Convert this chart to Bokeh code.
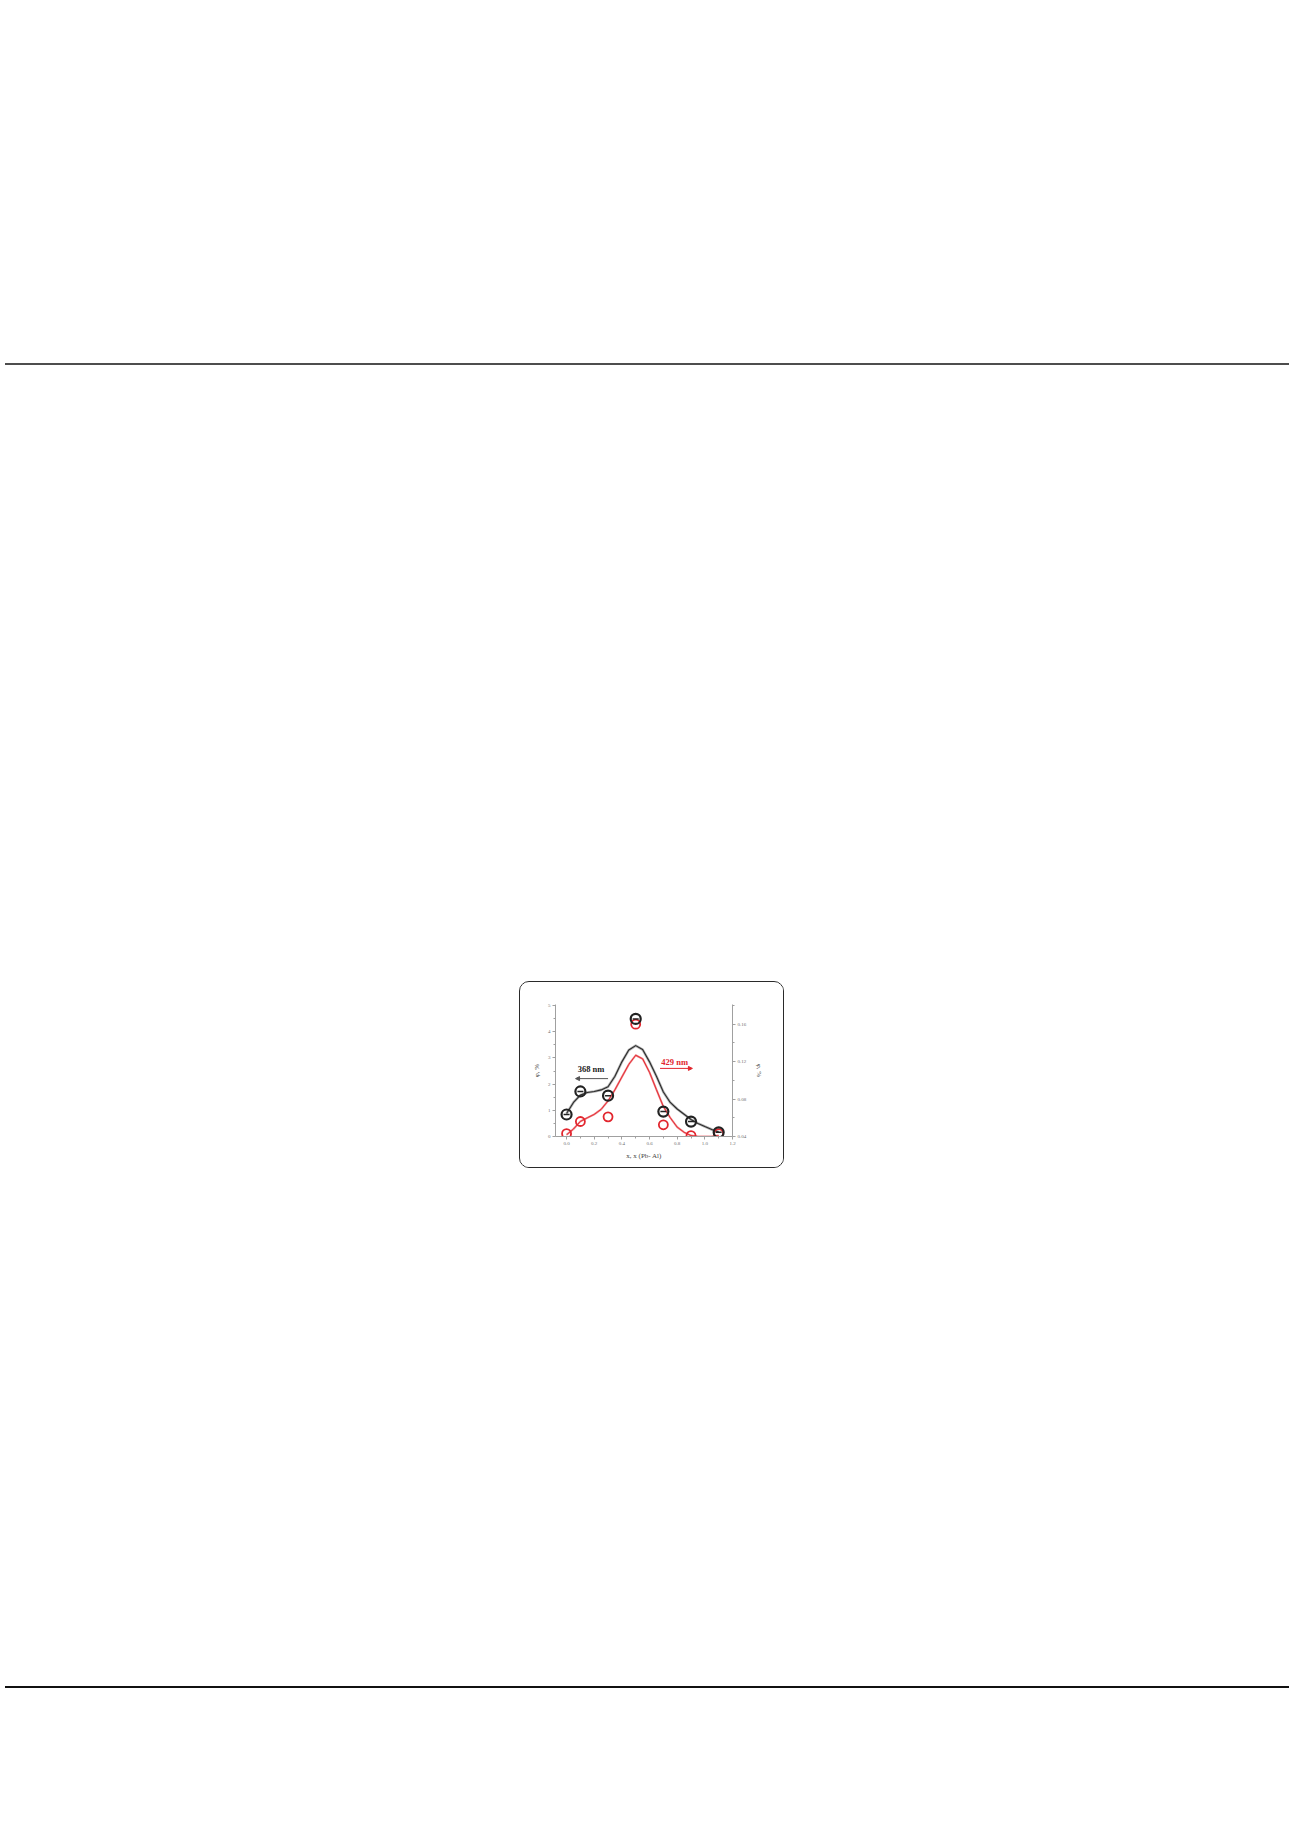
from bokeh.plotting import figure
from bokeh.layouts import column, row
from bokeh.models import (Range1d, LinearAxis, FixedTicker, Spacer, Div, Arrow,
                          NormalHead, InlineStyleSheet, NumeralTickFormatter)
from bokeh.core.properties import value
from bokeh.embed import file_html
from bokeh.resources import INLINE

# ---------------- data ----------------
x_pts = [0.0, 0.1, 0.3, 0.5, 0.7, 0.9, 1.1]
black_pts = [0.84, 1.72, 1.56, 4.49, 0.95, 0.57, 0.16]          # left axis
red_pts = [0.043, 0.056, 0.061, 0.160, 0.0525, 0.041, 0.043]      # right axis

x_fit = [0.0, 0.05, 0.1, 0.15, 0.2, 0.25, 0.3, 0.35, 0.4, 0.45, 0.5, 0.55,
         0.6, 0.65, 0.7, 0.75, 0.8, 0.85, 0.9, 0.95, 1.0, 1.05, 1.1]
black_fit = [0.88, 1.3, 1.58, 1.68, 1.72, 1.78, 1.9, 2.3, 2.85, 3.3, 3.47, 3.32,
             2.85, 2.3, 1.7, 1.3, 1.05, 0.85, 0.65, 0.5, 0.38, 0.27, 0.17]
red_fit = [0.0418, 0.048, 0.0561, 0.060, 0.0636, 0.069, 0.078, 0.090, 0.1035, 0.117,
           0.1268, 0.123, 0.1085, 0.090, 0.072, 0.060, 0.050, 0.0445, 0.041, 0.040,
           0.040, 0.040, 0.041]

x_ticks = [0.0, 0.2, 0.4, 0.6, 0.8, 1.0, 1.2]
left_ticks = [0, 1, 2, 3, 4, 5]
right_ticks = [0.04, 0.08, 0.12, 0.16]

x_label = "x, x (Pb- Al)"
left_label = "φ, %"
right_label = "φ, %"
label_368 = "368 nm"
label_429 = "429 nm"

SERIF = "Liberation Serif"
AX = "#a0a0a0"
TL = "#707070"

# ---------------- chart ----------------
p = figure(width=265, height=187, output_backend="svg", toolbar_location=None,
           x_range=Range1d(-0.08, 1.2), y_range=Range1d(0, 5.04),
           min_border_left=35, min_border_right=53, min_border_top=22,
           min_border_bottom=33, x_axis_location=None, y_axis_location=None)
p.extra_y_ranges = {"r": Range1d(0.04, 0.181)}
p.grid.visible = False
p.outline_line_color = None
p.background_fill_color = "white"
p.border_fill_color = "white"
p.stylesheets = [InlineStyleSheet(
    css=":host { border: 1.5px solid #2a2a2a; border-radius: 10px; overflow: hidden; }")]


def style_axis(ax):
    ax.axis_line_color = AX
    ax.axis_line_width = 1
    ax.major_tick_line_color = AX
    ax.minor_tick_line_color = AX
    ax.major_tick_out = 3
    ax.major_tick_in = 0
    ax.minor_tick_out = 2
    ax.minor_tick_in = 0
    ax.major_label_text_font = SERIF
    ax.major_label_text_font_size = "5px"
    ax.major_label_text_color = TL
    ax.major_label_standoff = 2
    ax.axis_label_text_font = SERIF
    ax.axis_label_text_font_size = "7px"
    ax.axis_label_text_font_style = "normal"
    ax.axis_label_text_color = "#444"
    ax.axis_label_standoff = 4


xa = LinearAxis(ticker=FixedTicker(ticks=x_ticks, minor_ticks=[t + 0.1 for t in x_ticks[:-1]]),
                formatter=NumeralTickFormatter(format="0.0"), axis_label=x_label)
style_axis(xa)
p.add_layout(xa, "below")

la = LinearAxis(ticker=FixedTicker(ticks=left_ticks, minor_ticks=[t + 0.5 for t in left_ticks]),
                axis_label=left_label)
style_axis(la)
p.add_layout(la, "left")

ra = LinearAxis(y_range_name="r",
                ticker=FixedTicker(ticks=right_ticks, minor_ticks=[t + 0.02 for t in right_ticks]),
                formatter=NumeralTickFormatter(format="0.00"), axis_label=right_label)
style_axis(ra)
ra.axis_label_standoff = 6
p.add_layout(ra, "right")

# fitted curves
p.line(x_fit, black_fit, line_color="#b5b5b5", line_width=2.6, line_join="round")
p.line(x_fit, black_fit, line_color="#2b2b2b", line_width=1.1, line_join="round")
p.line(x_fit, red_fit, y_range_name="r", line_color="#f08a8e", line_width=2.0, line_join="round")
p.line(x_fit, red_fit, y_range_name="r", line_color="#e2262e", line_width=0.9, line_join="round")

# points
p.scatter(x_pts, red_pts, y_range_name="r", marker="circle", size=9,
          fill_color=None, line_color="#e2262e", line_width=1.8)
p.scatter(x_pts, black_pts, marker="circle", size=10,
          fill_color=None, line_color="#222222", line_width=2.2)
p.scatter(x_pts, black_pts, marker="dash", size=6,
          line_color="#222222", line_width=1.5)

# annotations
p.text(x=[0.08], y=[2.58], text=[label_368], text_font=value(SERIF),
       text_font_size="8.5px", text_font_style="bold", text_color="#222",
       text_baseline="middle", text_align="left")
p.add_layout(Arrow(x_start=0.30, y_start=2.21, x_end=0.065, y_end=2.21,
                   line_color="#555", line_width=1,
                   end=NormalHead(size=4, fill_color="#555", line_color="#555")))
p.text(x=[0.685], y=[2.86], text=[label_429], text_font=value(SERIF),
       text_font_size="8.5px", text_font_style="bold", text_color="#e2262e",
       text_baseline="middle", text_align="left")
p.add_layout(Arrow(x_start=0.676, y_start=2.6, x_end=0.91, y_end=2.6,
                   line_color="#e2262e", line_width=1,
                   end=NormalHead(size=4, fill_color="#e2262e", line_color="#e2262e")))

# ---------------- page layout ----------------
top_line = Div(text="", width=1284, height=2, styles={"background-color": "#4d4d4d"})
bottom_line = Div(text="", width=1284, height=2, styles={"background-color": "#111111"})

page = column(
    Spacer(width=1284, height=358),
    top_line,
    Spacer(width=1284, height=611),
    row(Spacer(width=519, height=187), p),
    Spacer(width=1284, height=513),
    bottom_line,
)

open("out.html", "w").write(file_html(page, INLINE))
